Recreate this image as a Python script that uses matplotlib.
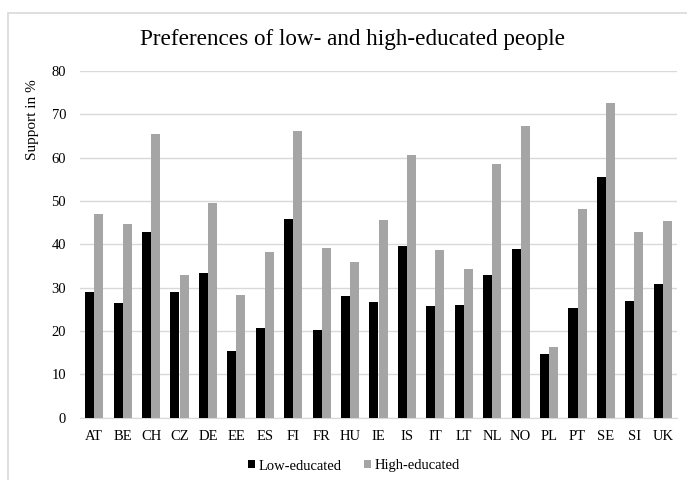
import matplotlib
matplotlib.use("Agg")
import matplotlib.pyplot as plt
import numpy as np
from matplotlib.patches import Rectangle

countries = ["AT", "BE", "CH", "CZ", "DE", "EE", "ES", "FI", "FR", "HU", "IE",
             "IS", "IT", "LT", "NL", "NO", "PL", "PT", "SE", "SI", "UK"]
low_educated = [29.1, 26.4, 42.9, 29.1, 33.4, 15.4, 20.7, 45.9, 20.2, 28.0, 26.6,
                39.6, 25.8, 26.1, 33.0, 38.9, 14.6, 25.2, 55.5, 27.0, 30.8]
high_educated = [46.9, 44.6, 65.4, 33.0, 49.5, 28.3, 38.1, 66.1, 39.2, 35.9, 45.6,
                 60.5, 38.6, 34.4, 58.5, 67.2, 16.2, 48.2, 72.6, 42.9, 45.4]
y_ticks = [0, 10, 20, 30, 40, 50, 60, 70, 80]

plt.rcParams["font.family"] = ["Liberation Serif", "DejaVu Serif"]

fig = plt.figure(figsize=(6.87, 4.80), dpi=100)
fig.patch.set_facecolor("white")

# light chart-area frame
fig.patches.append(Rectangle((8 / 687, -0.05), 1.0, 1 - 13 / 480 + 0.05,
                             transform=fig.transFigure, fill=False,
                             edgecolor="#d9d9d9", linewidth=1.2))

ax = fig.add_axes([80 / 687, 1 - 417.7 / 480, (677 - 80) / 687, (417.7 - 70.8) / 480])

x = np.arange(len(countries))
w = 0.32
ax.bar(x - w / 2, low_educated, width=w, color="#000000", label="Low-educated", zorder=3)
ax.bar(x + w / 2, high_educated, width=w, color="#a5a5a5", label="High-educated", zorder=3)

ax.set_xlim(-0.5, len(countries) - 0.5)
ax.set_ylim(0, 80)
ax.set_yticks(y_ticks)
ax.set_xticks(x)
ax.set_xticklabels(countries)
ax.tick_params(axis="both", length=0, labelsize=10.5, pad=9)
ax.tick_params(axis="y", pad=10)
ax.yaxis.grid(True, color="#d9d9d9", linewidth=1.0, zorder=0)
for s in ["top", "right", "left"]:
    ax.spines[s].set_visible(False)
ax.spines["bottom"].set_color("#d9d9d9")

ax.set_ylabel("Support in %", fontsize=11)
ax.yaxis.set_label_coords(-0.068, 0.858)

fig.text(352.5 / 687, 1 - 39 / 480, "Preferences of low- and high-educated people",
         ha="center", va="center", fontsize=16.7)

fig.legend(loc="center", bbox_to_anchor=(354 / 687, 1 - 466 / 480), ncol=2,
           frameon=False, fontsize=10.5, handlelength=0.5, handleheight=0.5,
           handletextpad=0.25, columnspacing=1.5)

fig.savefig("out.png", dpi=100)
